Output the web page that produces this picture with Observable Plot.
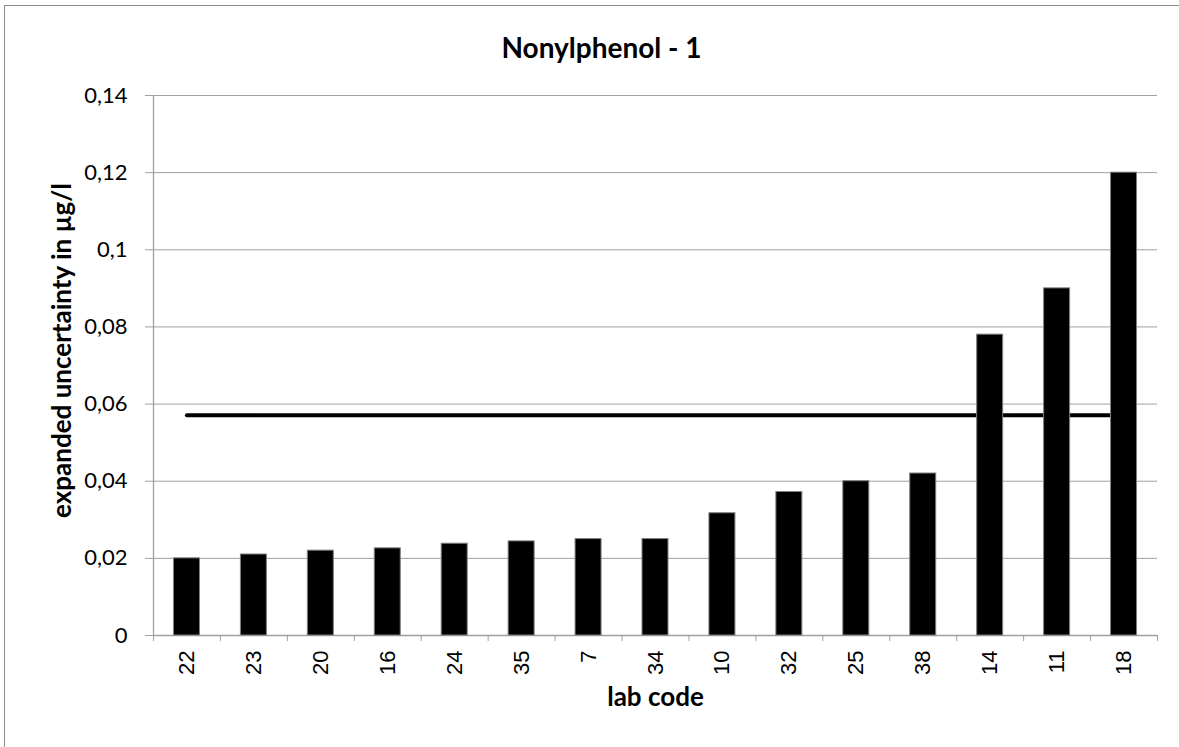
<!DOCTYPE html>
<html>
<head>
<meta charset="utf-8">
<script src="https://cdn.jsdelivr.net/npm/d3@7"></script>
<script src="https://cdn.jsdelivr.net/npm/@observablehq/plot@0.6"></script>
<style>
  html, body { margin: 0; padding: 0; background: #fff; }
  #wrap { position: relative; width: 1179px; height: 747px; overflow: hidden; background: #fff; }
  #border { position: absolute; left: 4px; top: 5px; width: 1300px; height: 900px; border: 1.5px solid #8c8c8c; pointer-events: none; }
  #wrap svg { position: absolute; left: 0; top: 0; }
</style>
</head>
<body>
<div id="wrap"><div id="border"></div></div>
<script>
const labs = ["22","23","20","16","24","35","7","34","10","32","25","38","14","11","18"];
const values = [0.020,0.021,0.022,0.0226,0.0238,0.0244,0.025,0.025,0.0317,0.0372,0.040,0.042,0.078,0.090,0.120];
const refValue = 0.0571;
const yTicks = [0,0.02,0.04,0.06,0.08,0.10,0.12,0.14];
const title = "Nonylphenol - 1";
const xLabel = "lab code";
const yLabel = "expanded uncertainty in µg/l";

const W = 1179, H = 747, mL = 153, mR = 22, mT = 95, mB = 112;
const step = (W - mL - mR) / labs.length;
const barW = 26;
const grid = "#a0a0a0";
const fmt = d => d === 0 ? "0" : String(+d.toFixed(2)).replace(".", ",");
const refData = labs.map(l => ({lab: l, v: refValue}));

const chart = Plot.plot({
  width: W, height: H,
  marginLeft: mL, marginRight: mR, marginTop: mT, marginBottom: mB,
  style: {fontFamily: "Lato", color: "black", background: "transparent"},
  x: {domain: labs, padding: 0, round: false, axis: null},
  y: {domain: [0, 0.14], axis: null},
  marks: [
    Plot.gridY(yTicks, {stroke: grid, strokeOpacity: 1, strokeWidth: 1}),
    Plot.axisY({ticks: yTicks, tickSize: 8, tickPadding: 18, tickFormat: fmt, stroke: grid, strokeOpacity: 1, fontSize: 22, label: null}),
    Plot.ruleX([labs[0]], {dx: -step / 2, stroke: grid, strokeWidth: 1.3}),
    Plot.ruleY([0], {stroke: grid, strokeWidth: 1.3}),
    Plot.axisX({ticks: labs, tickSize: 6, tickFormat: () => "", dx: -step / 2, stroke: grid, strokeOpacity: 1, label: null}),
    Plot.axisX({ticks: [labs[labs.length - 1]], tickSize: 6, tickFormat: () => "", dx: step / 2, stroke: grid, strokeOpacity: 1, label: null}),
    Plot.text(labs, {x: d => d, frameAnchor: "bottom", dy: 15, rotate: -90, textAnchor: "end", lineAnchor: "middle", fontSize: 22, fontFamily: "Liberation Sans"}),
    Plot.lineY(refData, {x: "lab", y: "v", stroke: "black", strokeWidth: 4, strokeLinecap: "round"}),
    Plot.barY(labs, {x: labs, y: values, fill: "black", stroke: "#808080", strokeWidth: 1, insetLeft: (step - barW) / 2, insetRight: (step - barW) / 2}),
    Plot.text([title], {frameAnchor: "top", dx: 601 - (mL + (W - mL - mR) / 2), dy: 49 - mT, fontSize: 28, fontWeight: "bold", lineAnchor: "middle"}),
    Plot.text([xLabel], {frameAnchor: "bottom", dy: 62, fontSize: 26, fontWeight: "bold", lineAnchor: "middle"}),
    Plot.text([yLabel], {frameAnchor: "left", dx: -91, dy: -15, rotate: -90, textAnchor: "middle", fontSize: 26, fontWeight: "bold", lineAnchor: "middle"})
  ]
});
document.getElementById("wrap").insertBefore(chart, document.getElementById("border"));
</script>
</body>
</html>
